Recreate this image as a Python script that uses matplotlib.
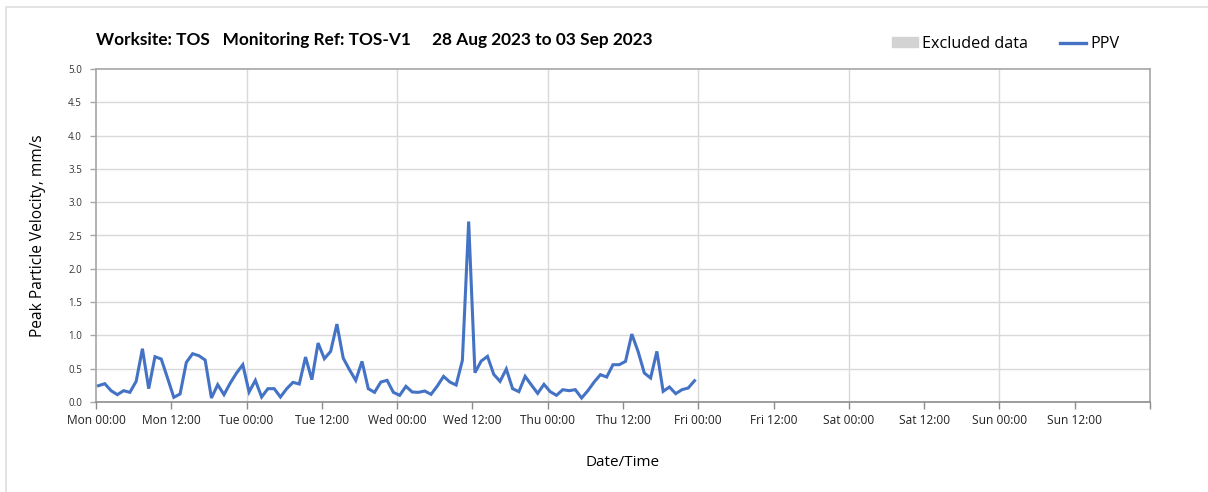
import matplotlib.pyplot as plt
import matplotlib.patches as mpatches
from matplotlib.lines import Line2D
import numpy as np

# hourly PPV readings, first reading at Mon 00:24 (hours since Mon 00:00)
start_hour = 0.4
ppv_mon = [0.245, 0.275, 0.17, 0.11, 0.17, 0.145, 0.31, 0.80, 0.20, 0.68, 0.645, 0.36,
           0.07, 0.12, 0.595, 0.725, 0.695, 0.63, 0.06, 0.26, 0.11, 0.285, 0.435, 0.56]
ppv_tue = [0.15, 0.325, 0.075, 0.20, 0.20, 0.075, 0.20, 0.295, 0.27, 0.675, 0.335, 0.885,
           0.65, 0.76, 1.17, 0.66, 0.485, 0.325, 0.61, 0.20, 0.145, 0.30, 0.325, 0.145, 0.10]
ppv_wed = [0.235, 0.15, 0.145, 0.165, 0.115, 0.24, 0.385, 0.30, 0.255, 0.625, 2.71, 0.44,
           0.615, 0.685, 0.415, 0.31, 0.495, 0.20, 0.155, 0.385, 0.255, 0.13, 0.265, 0.155]
ppv_thu = [0.10, 0.185, 0.17, 0.185, 0.06, 0.17, 0.30, 0.41, 0.375, 0.56, 0.56, 0.61,
           1.02, 0.76, 0.435, 0.36, 0.76, 0.16, 0.225, 0.125, 0.185, 0.21, 0.32]

tick_labels = ['Mon 00:00', 'Mon 12:00', 'Tue 00:00', 'Tue 12:00', 'Wed 00:00', 'Wed 12:00',
               'Thu 00:00', 'Thu 12:00', 'Fri 00:00', 'Fri 12:00', 'Sat 00:00', 'Sat 12:00',
               'Sun 00:00', 'Sun 12:00']
title = 'Worksite: TOS   Monitoring Ref: TOS-V1     28 Aug 2023 to 03 Sep 2023'

ppv = np.array(ppv_mon + ppv_tue + ppv_wed + ppv_thu)
hours = start_hour + np.arange(len(ppv))

blue = '#4472C4'
grid_c = '#d9d9d9'
spine_c = '#a6a6a6'

fig = plt.figure(figsize=(12.08, 4.92), dpi=100)
ax = fig.add_axes([96 / 1208, 90 / 492, 1054 / 1208, 333 / 492])

# outer frame (left and top edges)
fig.patches.append(mpatches.Rectangle((6 / 1208, -0.1), 1.2, 0.1 + 485 / 492,
                                      transform=fig.transFigure, fill=False,
                                      edgecolor='#dedede', lw=1.2))

ax.plot(hours, ppv, color=blue, lw=2.2, solid_joinstyle='miter', zorder=3)

ax.set_xlim(0, 168)
ax.set_ylim(0, 5)
ax.set_xticks(np.arange(0, 169, 12))
ax.set_xticklabels(tick_labels + [''], fontsize=8.6, family='Open Sans', color='#222222')
ax.set_yticks(np.arange(0, 5.01, 0.5))
ax.set_yticklabels([f'{v:.1f}' for v in np.arange(0, 5.01, 0.5)],
                   fontsize=7, family='Open Sans', color='#333333')

for v in np.arange(0.5, 5.0, 0.5):
    ax.axhline(v, color=grid_c, lw=1, zorder=1)
for h in range(24, 168, 24):
    ax.axvline(h, color=grid_c, lw=1, zorder=1)

for s in ax.spines.values():
    s.set_color(spine_c)
    s.set_linewidth(1.2)
ax.spines['bottom'].set_color('#8c8c8c')
ax.tick_params(axis='x', length=5, width=1, color='#8c8c8c', pad=4)
ax.tick_params(axis='y', length=4, width=1, color=spine_c, pad=6)

ax.set_xlabel('Date/Time', fontsize=11, family='Open Sans', labelpad=20)
ax.set_ylabel('Peak Particle Velocity, mm/s', fontsize=11.2, family='Open Sans', labelpad=16)

fig.text(96 / 1208, 1 - 40 / 492, title, fontsize=12.4, fontweight='bold',
         family='Lato', va='center', ha='left')

handles = [mpatches.Patch(color='#d3d3d3', label='Excluded data'),
           Line2D([], [], color=blue, lw=2.4, label='PPV')]
fig.legend(handles=handles, loc='center right', bbox_to_anchor=(1119 / 1208, 1 - 44 / 492),
           ncol=2, frameon=False, prop={'family': 'Open Sans', 'size': 11.6},
           handlelength=1.6, handleheight=0.55, handletextpad=0.25, columnspacing=2.0,
           borderaxespad=0, borderpad=0)

fig.savefig('out.png', dpi=100, facecolor='white')
